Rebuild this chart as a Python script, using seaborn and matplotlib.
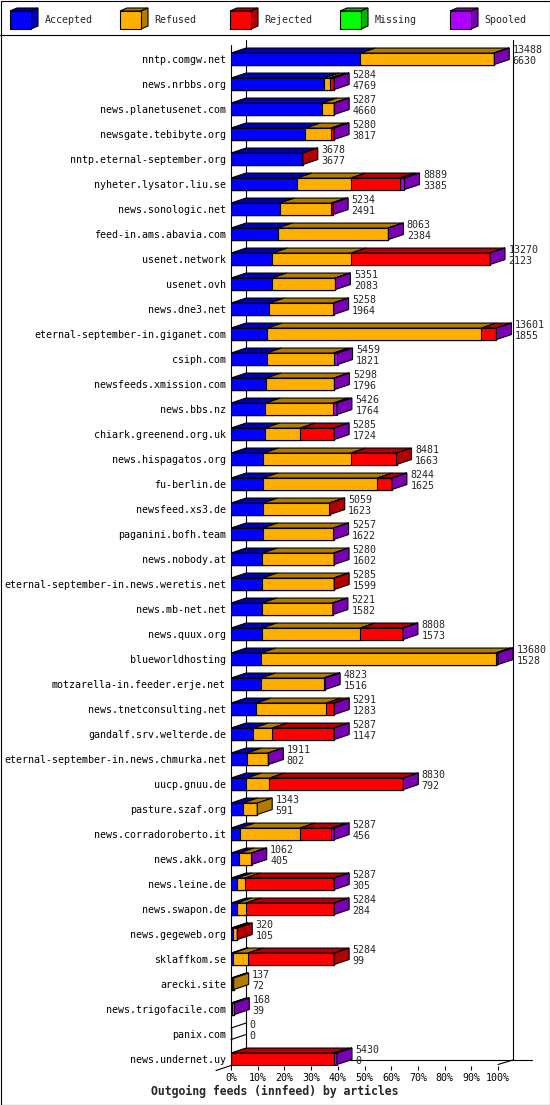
import numpy as np
import pandas as pd
import matplotlib
matplotlib.use("Agg")
import matplotlib.pyplot as plt
import matplotlib.colors as mcolors
from matplotlib.patches import Rectangle, Polygon
import seaborn as sns

hosts = ["nntp.comgw.net", "news.nrbbs.org", "news.planetusenet.com", "newsgate.tebibyte.org",
         "nntp.eternal-september.org", "nyheter.lysator.liu.se", "news.sonologic.net",
         "feed-in.ams.abavia.com", "usenet.network", "usenet.ovh", "news.dne3.net",
         "eternal-september-in.giganet.com", "csiph.com", "newsfeeds.xmission.com", "news.bbs.nz",
         "chiark.greenend.org.uk", "news.hispagatos.org", "fu-berlin.de", "newsfeed.xs3.de",
         "paganini.bofh.team", "news.nobody.at", "eternal-september-in.news.weretis.net",
         "news.mb-net.net", "news.quux.org", "blueworldhosting", "motzarella-in.feeder.erje.net",
         "news.tnetconsulting.net", "gandalf.srv.welterde.de", "eternal-september-in.news.chmurka.net",
         "uucp.gnuu.de", "pasture.szaf.org", "news.corradoroberto.it", "news.akk.org", "news.leine.de",
         "news.swapon.de", "news.gegeweb.org", "sklaffkom.se", "arecki.site", "news.trigofacile.com",
         "panix.com", "news.undernet.uy"]
offered = [13488, 5284, 5287, 5280, 3678, 8889, 5234, 8063, 13270, 5351, 5258, 13601, 5459, 5298,
           5426, 5285, 8481, 8244, 5059, 5257, 5280, 5285, 5221, 8808, 13680, 4823, 5291, 5287,
           1911, 8830, 1343, 5287, 1062, 5287, 5284, 320, 5284, 137, 168, 0, 5430]
accepted = [6630, 4769, 4660, 3817, 3677, 3385, 2491, 2384, 2123, 2083, 1964, 1855, 1821, 1796,
            1764, 1724, 1663, 1625, 1623, 1622, 1602, 1599, 1582, 1573, 1528, 1516, 1283, 1147,
            802, 792, 591, 456, 405, 305, 284, 105, 99, 72, 39, 0, 0]
refused = [6838, 300, 610, 1300, 0, 2750, 2650, 5660, 4030, 3250, 3275, 10970, 3440, 3485,
           3470, 1830, 4480, 5870, 3420, 3617, 3660, 3670, 3620, 5040, 12030, 3230, 3595, 960,
           1092, 1180, 752, 3080, 640, 420, 470, 205, 760, 65, 110, 0, 0]
rejected = [0, 190, 0, 145, 1, 2520, 75, 0, 7100, 0, 0, 760, 0, 0,
            0, 1713, 2338, 730, 16, 0, 0, 16, 0, 2175, 22, 60, 395, 3162,
            0, 6840, 0, 1600, 0, 4545, 4513, 10, 4425, 0, 0, 0, 5280]
missing = [0] * len(hosts)
spooled = [20, 25, 17, 18, 0, 234, 18, 19, 17, 18, 19, 16, 198, 17,
           192, 18, 0, 19, 0, 18, 18, 0, 19, 20, 100, 17, 18, 18,
           17, 18, 0, 151, 17, 17, 17, 0, 0, 0, 19, 0, 150]

series = ["Accepted", "Refused", "Rejected", "Missing", "Spooled"]
colors = ["#0000ff", "#ffaf00", "#ff0000", "#00ff00", "#af00ff"]
x_ticks = list(range(0, 101, 10))
tick_labels = [f"{t}%" for t in x_ticks]
title = "Outgoing feeds (innfeed) by articles"

sns.set_theme(style="white")
plt.rcParams["font.family"] = ["DejaVu Sans Mono"]
plt.rcParams["font.size"] = 7.2


def shade(c, f=0.7):
    r, g, b = mcolors.to_rgb(c)
    return (r * f, g * f, b * f)


df = pd.DataFrame({"host": hosts, "Accepted": accepted, "Refused": refused,
                   "Rejected": rejected, "Missing": missing, "Spooled": spooled})
scale = 100.0 / max(offered)
pct = df[series] * scale
cum = pct.cumsum(axis=1)
for s in series:
    df["cum_" + s] = cum[s]

W, H = 550, 1105
fig = plt.figure(figsize=(W / 100, H / 100), dpi=100)

# overlay in pixel coords: frame, legend, title
ov = fig.add_axes([0, 0, 1, 1])
ov.set_xlim(0, W)
ov.set_ylim(H, 0)
ov.axis("off")
ov.add_patch(Rectangle((0.5, 0.5), W - 1, H - 1, fill=False, ec="black", lw=0.8))
ov.plot([0, W], [35, 35], color="black", lw=0.8)
for k, s in enumerate(series):
    x0, y0, w, h, ddx, ddy = 10 + 110 * k, 11, 21, 18, 7, 3
    ov.add_patch(Polygon([(x0, y0), (x0 + w, y0), (x0 + w + ddx, y0 - ddy), (x0 + ddx, y0 - ddy)],
                         fc=shade(colors[k]), ec="black", lw=0.8))
    ov.add_patch(Polygon([(x0 + w, y0), (x0 + w, y0 + h), (x0 + w + ddx, y0 + h - ddy), (x0 + w + ddx, y0 - ddy)],
                         fc=shade(colors[k]), ec="black", lw=0.8))
    ov.add_patch(Rectangle((x0, y0), w, h, fc=colors[k], ec="black", lw=0.8))
    ov.text(x0 + 34.5, 20, s, ha="left", va="center", fontsize=7.2)
ov.text(274.5, 1091.5, title, ha="center", va="center", fontsize=8.3, fontweight="bold")

# main chart axes, placed in pixels
px_left, px_right = 231, 498
px_top, px_bot = 46.3, 1066
row0, pitch = 58.8, 25.0
ax = fig.add_axes([px_left / W, 1 - px_bot / H, (px_right - px_left) / W, (px_bot - px_top) / H])
ax.patch.set_alpha(0)

for k in reversed(range(len(series))):
    sns.barplot(data=df, x="cum_" + series[k], y="host", orient="h", color=colors[k],
                saturation=1, width=0.46, edgecolor="black", linewidth=0.8,
                errorbar=None, ax=ax, zorder=3)

ylo = (px_bot - row0) / pitch
yhi = (px_top - row0) / pitch
ax.set_xlim(0, 100)
ax.set_ylim(ylo, yhi)

dx = 15 * 100 / (px_right - px_left)
dy = 5 / pitch
half = 0.23

def py(p):
    return (p - row0) / pitch

# walls and floor
line_kw = dict(color="black", lw=0.8, zorder=1, clip_on=False)
ax.plot([0, 0], [py(45), py(1065.5)], **line_kw)
ax.plot([dx, dx], [py(40), py(1060)], **line_kw)
ax.plot([100 + dx, 100 + dx], [py(40), py(1060)], **line_kw)
ax.plot([dx, (532 - px_left) * 100 / (px_right - px_left)], [py(1060), py(1060)], **line_kw)
ax.plot([100, 100 + dx], [py(1064.5), py(1060)], **line_kw)
ax.plot([-dx, 0], [py(1070.5), py(1065.5)], **line_kw)

for i in range(len(hosts)):
    t, b = i - half, i + half
    last = None
    for k in range(len(series)):
        v = pct.iloc[i, k]
        if v <= 0:
            continue
        x1 = cum.iloc[i, k]
        x0 = x1 - v
        ax.fill([x0, x1, x1 + dx, x0 + dx], [t, t, t - dy, t - dy], fc=shade(colors[k]),
                ec="black", lw=0.8, zorder=4, clip_on=False)
        last = k
    if last is None:
        ax.plot([0, dx], [t, t - dy], color="black", lw=0.8, zorder=4, clip_on=False)
        ax.plot([0, dx], [b, b - dy], color="black", lw=0.8, zorder=4, clip_on=False)
        end = 0
    else:
        end = cum.iloc[i, last]
        ax.fill([end, end, end + dx, end + dx], [t, b, b - dy, t - dy], fc=shade(colors[last]),
                ec="black", lw=0.8, zorder=5, clip_on=False)
    ax.text(end + dx + 1.3, i - 0.34, str(offered[i]), ha="left", va="center", fontsize=7.2, zorder=6)
    ax.text(end + dx + 1.3, i + 0.09, str(accepted[i]), ha="left", va="center", fontsize=7.2, zorder=6)

for sp in ax.spines.values():
    sp.set_visible(False)
ax.set_xticks(x_ticks)
ax.set_xticklabels(tick_labels, fontsize=7.2)
ax.set_yticks(range(len(hosts)))
ax.set_yticklabels(hosts, fontsize=7.2)
ax.tick_params(axis="x", length=2.9, width=0.8, direction="out", pad=1.8, colors="black", bottom=True)
ax.tick_params(axis="y", length=0, pad=3.6, colors="black")
ax.set_xlabel("")
ax.set_ylabel("")

fig.savefig("out.png", dpi=100, facecolor="white")
